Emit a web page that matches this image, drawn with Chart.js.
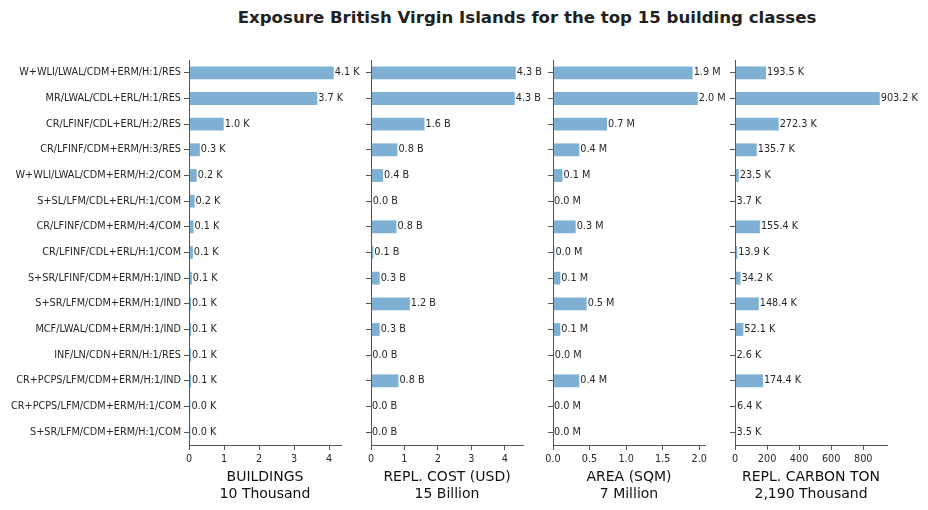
<!DOCTYPE html>
<html>
<head>
<meta charset="utf-8">
<script src="https://cdn.jsdelivr.net/npm/chart.js@4.4.0/dist/chart.umd.min.js"></script>
<style>
  body { margin: 0; width: 928px; height: 510px; background: #fff; position: relative; overflow: hidden; }
  #title { position: absolute; top: 8px; left: 227px; width: 600px; text-align: center;
           font: bold 16.6px 'DejaVu Sans'; color: #222; white-space: nowrap; }
  canvas { position: absolute; top: 50px; }
</style>
</head>
<body>
<div id="title">Exposure British Virgin Islands for the top 15 building classes</div>
<canvas id="c0" width="380" height="460" style="left:0px"></canvas>
<canvas id="c1" width="212" height="460" style="left:351px"></canvas>
<canvas id="c2" width="212" height="460" style="left:533px"></canvas>
<canvas id="c3" width="213" height="460" style="left:715px"></canvas>
<script>
const classes = [
  'W+WLI/LWAL/CDM+ERM/H:1/RES',
  'MR/LWAL/CDL+ERL/H:1/RES',
  'CR/LFINF/CDL+ERL/H:2/RES',
  'CR/LFINF/CDM+ERM/H:3/RES',
  'W+WLI/LWAL/CDM+ERM/H:2/COM',
  'S+SL/LFM/CDL+ERL/H:1/COM',
  'CR/LFINF/CDM+ERM/H:4/COM',
  'CR/LFINF/CDL+ERL/H:1/COM',
  'S+SR/LFINF/CDM+ERM/H:1/IND',
  'S+SR/LFM/CDM+ERM/H:1/IND',
  'MCF/LWAL/CDM+ERM/H:1/IND',
  'INF/LN/CDN+ERN/H:1/RES',
  'CR+PCPS/LFM/CDM+ERM/H:1/IND',
  'CR+PCPS/LFM/CDM+ERM/H:1/COM',
  'S+SR/LFM/CDM+ERM/H:1/COM',
];

// thousands of buildings
const buildings = [4.13, 3.66, 0.99, 0.31, 0.22, 0.16, 0.13, 0.11, 0.08, 0.06, 0.06, 0.06, 0.06, 0.04, 0.04];
// billions USD
const replCost = [4.33, 4.30, 1.60, 0.79, 0.36, 0.02, 0.76, 0.07, 0.26, 1.16, 0.26, 0.01, 0.82, 0.00, 0.00];
// millions sqm
const area = [1.91, 1.98, 0.74, 0.36, 0.13, 0.00, 0.31, 0.02, 0.10, 0.46, 0.10, 0.01, 0.36, 0.00, 0.00];
// thousands ton
const carbon = [193.5, 903.2, 272.3, 135.7, 23.5, 3.7, 155.4, 13.9, 34.2, 148.4, 52.1, 2.6, 174.4, 6.4, 3.5];

const units = ['K', 'B', 'M', 'K'];
const axisTitles = [
  ['BUILDINGS', '10 Thousand'],
  ['REPL. COST (USD)', '15 Billion'],
  ['AREA (SQM)', '7 Million'],
  ['REPL. CARBON TON', '2,190 Thousand'],
];
const tickSteps = [1, 1, 0.5, 200];
const tickDecimals = [0, 0, 1, 0];

const series = [buildings, replCost, area, carbon];
const yWidths = [189, 20, 20, 20];
const padRights = [39, 40, 40, 41];

const barColor = 'rgba(31, 119, 180, 0.58)';
const axisColor = '#555';
const textColor = '#262626';

Chart.defaults.font.family = "'DejaVu Sans'";

series.forEach((values, i) => {
  const valueLabels = {
    id: 'valueLabels' + i,
    afterDatasetsDraw(chart) {
      const ctx = chart.ctx;
      const meta = chart.getDatasetMeta(0);
      ctx.save();
      ctx.font = "9.7px 'DejaVu Sans'";
      ctx.fillStyle = textColor;
      ctx.textAlign = 'left';
      ctx.textBaseline = 'middle';
      meta.data.forEach((bar, j) => {
        ctx.fillText(values[j].toFixed(1) + ' ' + units[i], bar.x + 1, bar.y);
      });
      ctx.restore();
    }
  };

  new Chart(document.getElementById('c' + i), {
    type: 'bar',
    data: {
      labels: classes,
      datasets: [{
        data: values,
        backgroundColor: barColor,
        borderWidth: 0,
        barPercentage: 0.5,
        categoryPercentage: 1,
      }]
    },
    options: {
      indexAxis: 'y',
      responsive: false,
      animation: false,
      layout: { padding: { top: 10, right: padRights[i], left: 0, bottom: 0 } },
      plugins: { legend: { display: false }, tooltip: { enabled: false } },
      scales: {
        x: {
          min: 0,
          max: Math.max(...values) * 1.05,
          grid: { drawOnChartArea: false, drawTicks: true, tickLength: 5, tickColor: axisColor },
          border: { display: true, color: axisColor, width: 1 },
          ticks: {
            stepSize: tickSteps[i],
            includeBounds: false,
            padding: 4,
            maxRotation: 0,
            color: textColor,
            font: { size: 9.7 },
            callback: v => Number(v).toFixed(tickDecimals[i]),
          },
          title: {
            display: true,
            text: axisTitles[i],
            color: '#111',
            font: { size: 14, lineHeight: 1.15 },
            padding: { top: 0, bottom: 8 },
          },
          afterFit: s => { s.height = 65; },
        },
        y: {
          grid: { drawOnChartArea: false, offset: false, drawTicks: true, tickLength: 5, tickColor: axisColor },
          border: { display: true, color: axisColor, width: 1 },
          ticks: {
            display: i === 0,
            autoSkip: false,
            padding: 3,
            color: textColor,
            font: { size: 9.7 },
          },
          afterFit: s => { s.width = yWidths[i]; },
        }
      }
    },
    plugins: [valueLabels]
  });
});
</script>
</body>
</html>
